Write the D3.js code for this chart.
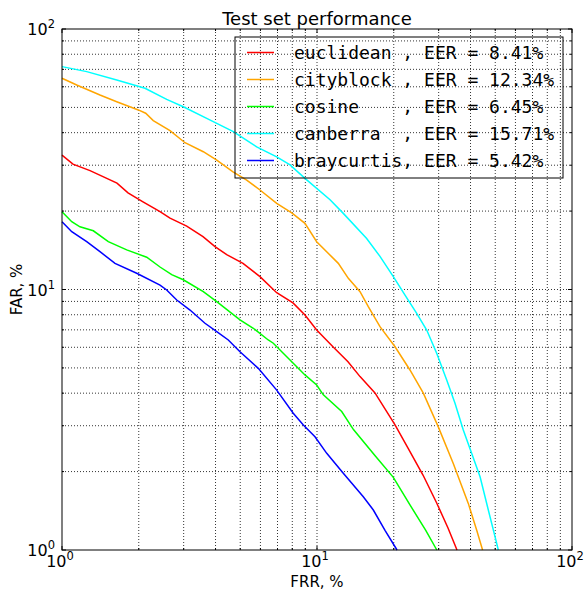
<!DOCTYPE html>
<html>
<head>
<meta charset="utf-8">
<script src="https://cdn.jsdelivr.net/npm/d3@7"></script>
<style>
  body { margin: 0; background: #fff; }
  svg { display: block; }
  text { font-family: "DejaVu Sans", sans-serif; fill: #000; }
  .legend text { font-family: "DejaVu Sans Mono", monospace; white-space: pre; }
</style>
</head>
<body>
<svg id="chart" width="584" height="591"></svg>
<script>
// metric names + equal error rates
var names = ["euclidean", "cityblock", "cosine", "canberra", "braycurtis"];
var eers = [8.41, 12.34, 6.45, 15.71, 5.42];
var colors = ["#ff0000", "#ffa500", "#00ff00", "#00ffff", "#0000ff"];

// [FRR %, FAR %]
var euclidean = [[1.0,32.8],[1.104,30.3],[1.288,28.6],[1.643,25.6],[1.815,23.5],[2.078,21.7],[2.423,19.9],[2.652,18.8],[3.083,17.5],[3.572,15.95],[3.981,14.6],[4.425,13.6],[5.126,12.6],[5.976,11.2],[6.95,9.72],[8.05,8.88],[8.97,7.98],[9.97,6.99],[11.55,6.03],[13.23,5.28],[14.75,4.63],[16.88,4.01],[20.23,3.02],[22.75,2.46],[26.04,1.94],[29.47,1.515],[32.64,1.215],[35.4,1.0]];
var cityblock = [[1.0,64.7],[1.142,60.95],[1.409,55.8],[1.639,52.6],[1.992,48.9],[2.129,47.5],[2.28,44.5],[2.652,40.7],[3.037,36.6],[3.582,33.8],[4.044,31.4],[4.684,28.3],[5.30,26.3],[5.976,24.1],[6.95,21.4],[7.96,19.7],[8.97,17.95],[9.97,15.26],[12.12,12.6],[13.27,11.04],[14.75,9.81],[15.89,8.59],[17.66,7.2],[20.23,6.03],[23.15,4.91],[26.12,4.0],[29.9,2.97],[34.23,2.15],[39.2,1.51],[42.3,1.19],[44.6,1.0]];
var cosine = [[1.0,19.9],[1.092,18.2],[1.176,17.4],[1.327,16.8],[1.519,15.26],[1.794,14.2],[2.149,13.3],[2.423,12.2],[2.693,11.4],[2.99,10.9],[3.582,9.81],[4.044,8.98],[4.989,7.64],[5.626,7.1],[6.44,6.4],[6.74,6.22],[8.07,5.21],[8.97,4.70],[9.97,4.30],[10.59,3.94],[12.5,3.40],[13.9,2.9],[16.9,2.3],[19.92,1.9],[23.15,1.49],[26.7,1.19],[29.5,1.0]];
var canberra = [[1.0,71.7],[1.25,68.6],[1.639,63.7],[2.116,59.2],[2.574,53.7],[2.99,50.3],[3.694,45.4],[4.697,40.4],[5.80,35.3],[6.95,32.3],[7.84,30.1],[8.97,26.7],[11.25,22.1],[12.68,19.6],[15.66,15.7],[17.66,13.4],[19.92,11.2],[22.14,9.52],[24.6,8.1],[26.93,6.99],[29.47,5.69],[32.26,4.49],[34.77,3.66],[37.47,2.89],[43.6,1.91],[46.97,1.424],[49.9,1.125],[51.4,1.0]];
var braycurtis = [[1.0,18.2],[1.092,16.67],[1.25,15.26],[1.409,13.97],[1.614,12.6],[1.963,11.54],[2.423,10.4],[2.574,9.96],[2.818,9.11],[3.177,8.34],[3.637,7.42],[4.044,6.89],[4.489,6.4],[4.989,5.77],[5.886,4.98],[6.95,4.11],[8.07,3.35],[8.84,3.02],[9.82,2.72],[10.92,2.35],[12.68,1.97],[15.19,1.60],[16.63,1.424],[18.48,1.19],[20.6,1.0]];

var series = [euclidean, cityblock, cosine, canberra, braycurtis];
var decades = [1, 10, 100];

var margin = {top: 29, right: 12, bottom: 41, left: 62};
var width = 510, height = 521;

var svg = d3.select("#chart");
var g = svg.append("g")
    .attr("transform", "translate(" + margin.left + "," + margin.top + ")");

var x = d3.scaleLog().domain([1, 100]).range([0, width]);
var y = d3.scaleLog().domain([1, 100]).range([height, 0]);

var xt = x.ticks(), yt = y.ticks();
function isMajor(v){ return decades.indexOf(v) >= 0; }

// grid at every tick (major + minor), dotted
g.append("g").selectAll("line.gx")
    .data(xt.filter(function(d){ return d > 1 && d < 100; }))
    .enter().append("line")
    .attr("x1", function(d){ return x(d); }).attr("x2", function(d){ return x(d); })
    .attr("y1", 0).attr("y2", height)
    .attr("stroke", "#000").attr("stroke-width", 0.8).attr("stroke-dasharray", "1,2");
g.append("g").selectAll("line.gy")
    .data(yt.filter(function(d){ return d > 1 && d < 100; }))
    .enter().append("line")
    .attr("y1", function(d){ return y(d); }).attr("y2", function(d){ return y(d); })
    .attr("x1", 0).attr("x2", width)
    .attr("stroke", "#000").attr("stroke-width", 0.8).attr("stroke-dasharray", "1,2");

// curves
var line = d3.line()
    .x(function(d){ return x(d[0]); })
    .y(function(d){ return y(d[1]); });

g.append("g").selectAll("path")
    .data(series)
    .enter().append("path")
    .attr("d", line)
    .attr("fill", "none")
    .attr("stroke", function(d, i){ return colors[i]; })
    .attr("stroke-width", 1.5);

// inward ticks on all four sides
function tlen(v){ return isMajor(v) ? 4 : 2; }
var ticks = g.append("g").attr("stroke", "#000").attr("stroke-width", 1);
xt.forEach(function(v){
    ticks.append("line").attr("x1", x(v)).attr("x2", x(v)).attr("y1", height).attr("y2", height - tlen(v));
    ticks.append("line").attr("x1", x(v)).attr("x2", x(v)).attr("y1", 0).attr("y2", tlen(v));
});
yt.forEach(function(v){
    ticks.append("line").attr("y1", y(v)).attr("y2", y(v)).attr("x1", 0).attr("x2", tlen(v));
    ticks.append("line").attr("y1", y(v)).attr("y2", y(v)).attr("x1", width).attr("x2", width - tlen(v));
});

// frame
g.append("rect")
    .attr("width", width).attr("height", height)
    .attr("fill", "none").attr("stroke", "#000").attr("stroke-width", 1);

// tick labels 10^n
function powLabel(sel, v){
    var e = Math.round(Math.log10(v));
    sel.append("tspan").text("10").style("font-size", "16px");
    sel.append("tspan").text(e).attr("dy", -7).style("font-size", "11.5px");
}
decades.forEach(function(v){
    var tx = g.append("text")
        .attr("x", x(v) - 2).attr("y", height + 17)
        .attr("text-anchor", "middle");
    powLabel(tx, v);
    var ty = g.append("text")
        .attr("x", -7).attr("y", y(v) + 6)
        .attr("text-anchor", "end");
    powLabel(ty, v);
});

// title + axis labels
svg.append("text")
    .attr("x", margin.left + width / 2).attr("y", 25)
    .attr("text-anchor", "middle")
    .style("font-size", "18px")
    .text("Test set performance");
svg.append("text")
    .attr("x", margin.left + width / 2).attr("y", 587)
    .attr("text-anchor", "middle")
    .style("font-size", "15px")
    .text("FRR, %");
svg.append("text")
    .attr("transform", "translate(22," + (margin.top + height / 2) + ") rotate(-90)")
    .attr("text-anchor", "middle")
    .style("font-size", "15px")
    .text("FAR, %");

// legend
var leg = svg.append("g").attr("class", "legend");
leg.append("rect")
    .attr("x", 235).attr("y", 37).attr("width", 328).attr("height", 141)
    .attr("fill", "none").attr("stroke", "#000").attr("stroke-width", 1);
names.forEach(function(n, i){
    var ry = 52.5 + i * 27;
    leg.append("line")
        .attr("x1", 247).attr("x2", 274).attr("y1", ry).attr("y2", ry)
        .attr("stroke", colors[i]).attr("stroke-width", 1.5);
    leg.append("text")
        .attr("x", 294).attr("y", ry + 6.5)
        .style("font-size", "18px")
        .text((n + "          ").slice(0, 10) + ", EER = " + eers[i].toFixed(2) + "%");
});
</script>
</body>
</html>
